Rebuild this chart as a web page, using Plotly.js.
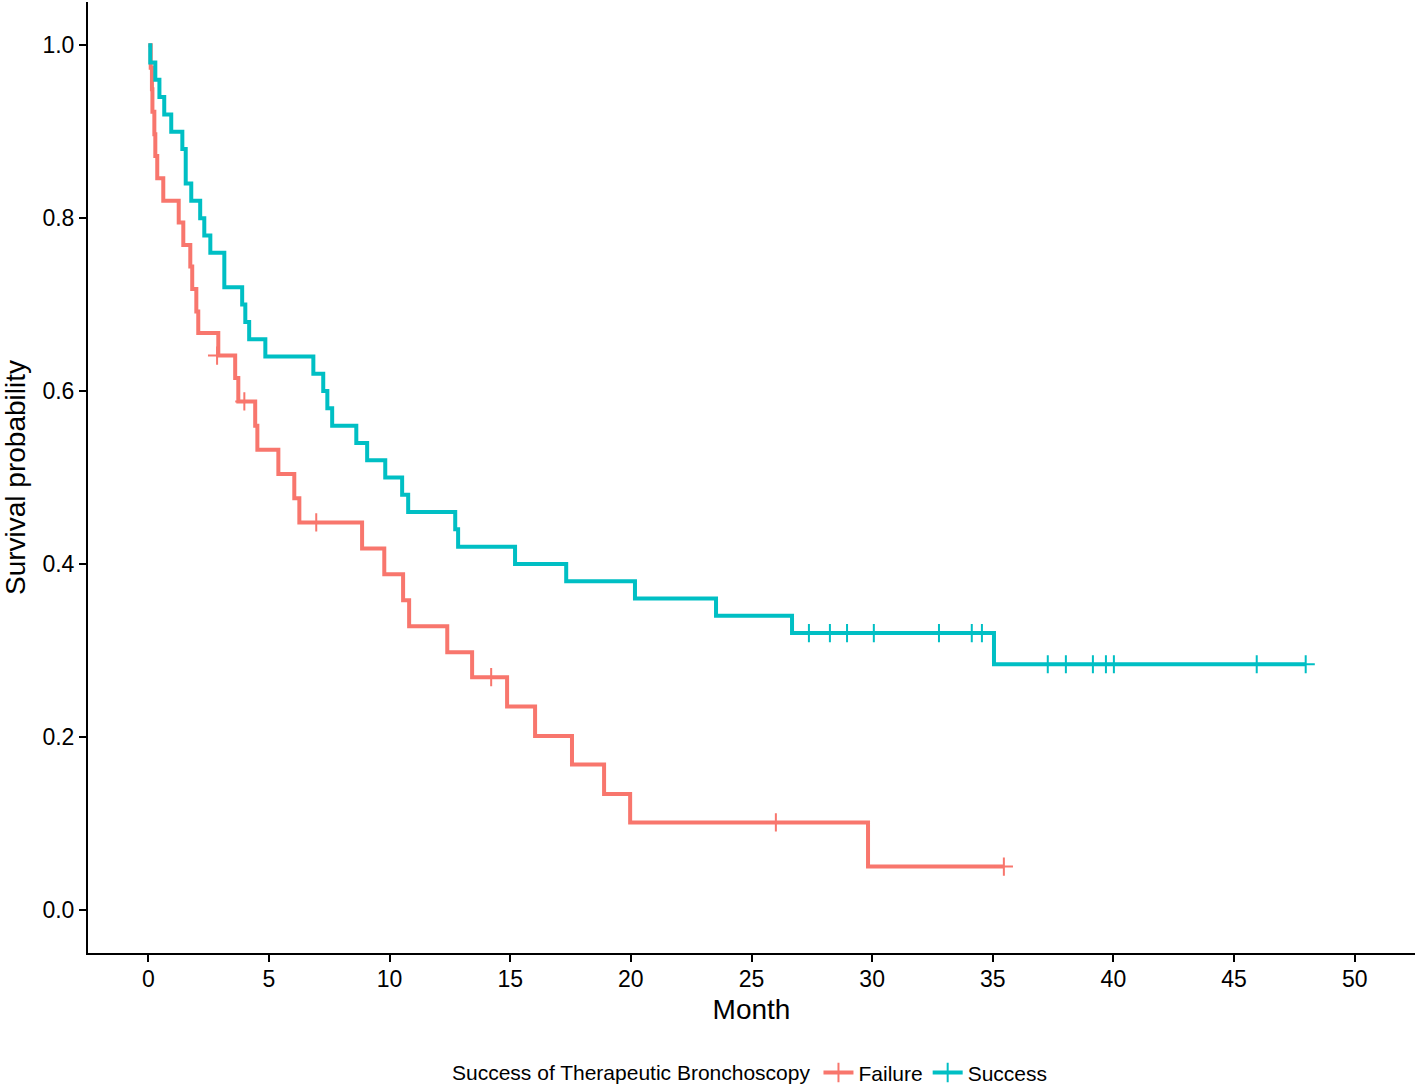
<!DOCTYPE html>
<html>
<head>
<meta charset="utf-8">
<script src="https://cdn.plot.ly/plotly-3.0.1.min.js"></script>
<style>
  html, body { margin: 0; padding: 0; background: #ffffff; }
  #chart { width: 1418px; height: 1087px; }
</style>
</head>
<body>
<div id="chart"></div>
<script>
// ---- Data (Kaplan-Meier steps) ----
const groupNames = ["Failure", "Success"];

// Failure group: event times (months) and survival after each step
const failureTimes = [0, 0.10, 0.15, 0.17, 0.25, 0.29, 0.37, 0.62, 1.26, 1.45, 1.74, 1.82, 1.99, 2.07, 2.90, 3.60, 3.73, 4.43, 4.52, 5.39, 6.05, 6.26, 8.86, 9.78, 10.56, 10.81, 12.39, 13.42, 14.87, 16.03, 17.56, 18.89, 19.97, 29.83, 35.46];
const failureSurv  = [1, 0.974, 0.949, 0.923, 0.897, 0.872, 0.846, 0.820, 0.795, 0.769, 0.744, 0.718, 0.692, 0.667, 0.641, 0.615, 0.588, 0.560, 0.532, 0.504, 0.476, 0.448, 0.418, 0.388, 0.358, 0.328, 0.298, 0.269, 0.235, 0.201, 0.168, 0.134, 0.101, 0.050, 0.050];
const failureCensorTimes = [2.85, 3.98, 6.96, 14.21, 26.01, 35.46];
const failureCensorSurv  = [0.641, 0.588, 0.448, 0.269, 0.101, 0.050];

// Success group
const successTimes = [0, 0.08, 0.29, 0.46, 0.66, 0.95, 1.41, 1.55, 1.78, 2.15, 2.32, 2.57, 3.15, 3.89, 4.02, 4.18, 4.85, 6.84, 7.25, 7.42, 7.62, 8.62, 9.07, 9.82, 10.52, 10.77, 12.72, 12.84, 15.20, 17.32, 20.17, 23.53, 26.68, 35.05, 47.97];
const successSurv  = [1, 0.98, 0.96, 0.94, 0.92, 0.90, 0.88, 0.84, 0.82, 0.80, 0.78, 0.76, 0.72, 0.70, 0.68, 0.66, 0.64, 0.62, 0.60, 0.58, 0.56, 0.54, 0.52, 0.50, 0.48, 0.46, 0.44, 0.42, 0.40, 0.38, 0.36, 0.34, 0.32, 0.284, 0.284];
const successCensorTimes = [27.38, 28.25, 28.96, 30.07, 32.77, 34.13, 34.55, 37.28, 38.03, 39.15, 39.69, 40.02, 45.94, 47.97];
const successCensorSurv  = [0.32, 0.32, 0.32, 0.32, 0.32, 0.32, 0.32, 0.284, 0.284, 0.284, 0.284, 0.284, 0.284, 0.284];

const xTickVals = [0, 5, 10, 15, 20, 25, 30, 35, 40, 45, 50];
const yTickVals = [0, 0.2, 0.4, 0.6, 0.8, 1.0];
const yTickText = ["0.0", "0.2", "0.4", "0.6", "0.8", "1.0"];

// ---- Styling ----
const colors = { Failure: "#F8766D", Success: "#00BFC4" };
const FONT = "Liberation Sans, Arial, Helvetica, sans-serif";
const LW = 4;

function stepTrace(name, x, y) {
  return {
    type: "scatter", mode: "lines", x: x, y: y, name: name,
    line: { shape: "hv", color: colors[name], width: LW },
    showlegend: false, hoverinfo: "skip", legendgroup: name
  };
}
function censorTrace(name, x, y) {
  return {
    type: "scatter", mode: "markers", x: x, y: y, name: name,
    marker: { symbol: "cross-thin", size: 13, color: colors[name],
              line: { color: colors[name], width: 2 } },
    showlegend: false, hoverinfo: "skip", legendgroup: name
  };
}
function legendTrace(name) {
  return {
    type: "scatter", mode: "lines+markers", x: [null], y: [null], name: name,
    line: { color: colors[name], width: LW },
    marker: { symbol: "cross-thin", size: 14, color: colors[name],
              line: { color: colors[name], width: 2 } },
    showlegend: true, legendgroup: name
  };
}

const data = [
  stepTrace("Failure", failureTimes, failureSurv),
  censorTrace("Failure", failureCensorTimes, failureCensorSurv),
  stepTrace("Success", successTimes, successSurv),
  censorTrace("Success", successCensorTimes, successCensorSurv),
  legendTrace("Failure"),
  legendTrace("Success")
];

const layout = {
  width: 1418, height: 1087,
  paper_bgcolor: "#ffffff", plot_bgcolor: "#ffffff",
  margin: { l: 88, r: 3, t: 2, b: 134, autoexpand: false },
  font: { family: FONT, color: "#000000", size: 22 },
  showlegend: true,
  xaxis: {
    range: [-2.5, 52.5], tickvals: xTickVals, ticktext: xTickVals.map(String),
    showgrid: false, zeroline: false, showline: true, linecolor: "#000000", linewidth: 2,
    ticks: "outside", ticklen: 7, tickwidth: 2, tickcolor: "#000000",
    ticklabelstandoff: -3,
    tickfont: { family: FONT, size: 23, color: "#000000" },
    title: { text: "Month", font: { family: FONT, size: 28, color: "#000000" }, standoff: 9 },
    automargin: false
  },
  yaxis: {
    range: [-0.05, 1.05], tickvals: yTickVals, ticktext: yTickText,
    showgrid: false, zeroline: false, showline: true, linecolor: "#000000", linewidth: 2,
    ticks: "outside", ticklen: 7, tickwidth: 2, tickcolor: "#000000",
    tickfont: { family: FONT, size: 23, color: "#000000" },
    title: { text: "Survival probability", font: { family: FONT, size: 28, color: "#000000" }, standoff: 10 },
    automargin: false
  },
  legend: {
    orientation: "h", x: 0.5, xanchor: "center", y: -0.126, yanchor: "middle",
    font: { family: FONT, size: 21, color: "#000000" },
    title: { text: "Success of Therapeutic Bronchoscopy", side: "left", font: { family: FONT, size: 21, color: "#000000" } },
    itemwidth: 30, bgcolor: "rgba(0,0,0,0)"
  }
};

Plotly.newPlot("chart", data, layout, { displayModeBar: false, staticPlot: true });
</script>
</body>
</html>
